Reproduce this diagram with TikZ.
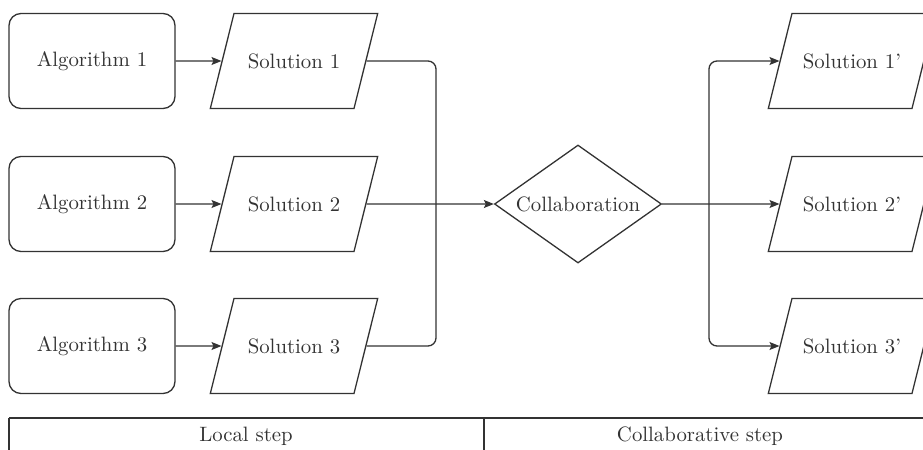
\documentclass[tikz,border=0pt]{standalone}
\usepackage{fontspec}
\usetikzlibrary{shapes.geometric,arrows.meta}
\begin{document}
\begin{tikzpicture}[x=0.5pt,y=-0.5pt,
  font=\fontsize{10.4}{12.5}\selectfont,
  line width=0.65pt, color=black!80,
  algbox/.style={draw, rounded corners=6pt, minimum width=83pt, minimum height=47.5pt, inner sep=0pt},
  solbox/.style={draw, trapezium, trapezium left angle=76, trapezium right angle=104,
    text width=50pt, align=center, text height=7.2pt, text depth=0pt,
    inner xsep=5pt, inner ysep=20.15pt},
  dia/.style={draw, diamond, aspect=1.415, minimum width=83.5pt, minimum height=59pt, inner sep=0pt},
  arr/.style={-{Stealth[length=5pt,width=4pt,inset=1pt]}},
  link/.style={rounded corners=4pt}]
\useasboundingbox (0,0) rectangle (923,450);
\node[algbox] (a1) at (92,61) {Algorithm 1};
\node[algbox] (a2) at (92,204) {Algorithm 2};
\node[algbox] (a3) at (92,346) {Algorithm 3};
\node[solbox] (s1) at (294,61) {Solution 1};
\node[solbox] (s2) at (294,204) {Solution 2};
\node[solbox] (s3) at (294,346) {Solution 3};
\node[dia] (c) at (578,204) {Collaboration};
\node[solbox] (t1) at (852,61) {Solution 1'};
\node[solbox] (t2) at (852,204) {Solution 2'};
\node[solbox] (t3) at (852,346) {Solution 3'};
\coordinate (jl) at (436,204);
\coordinate (jr) at (709,204);
\draw[arr] (a1) -- (s1);
\draw[arr] (a2) -- (s2);
\draw[arr] (a3) -- (s3);
\draw[link] (s1.east) -| (jl);
\draw[link] (s3.east) -| (jl);
\draw[arr] (s2) -- (c);
\draw[arr] (c) -- (t2);
\draw[arr,link] (jr) |- (t1);
\draw[arr,link] (jr) |- (t3);
% bottom table
\coordinate (hl) at (9,418);
\coordinate (hr) at (923,418);
\coordinate (vm) at (484,418);
\draw (hl) -- (hr);
\draw (hl) -- ++(0,40);
\draw (vm) -- ++(0,40);
\node (ls) at (246,436) {Local step};
\node (cs) at (700,436) {Collaborative step};
\end{tikzpicture}
\end{document}
